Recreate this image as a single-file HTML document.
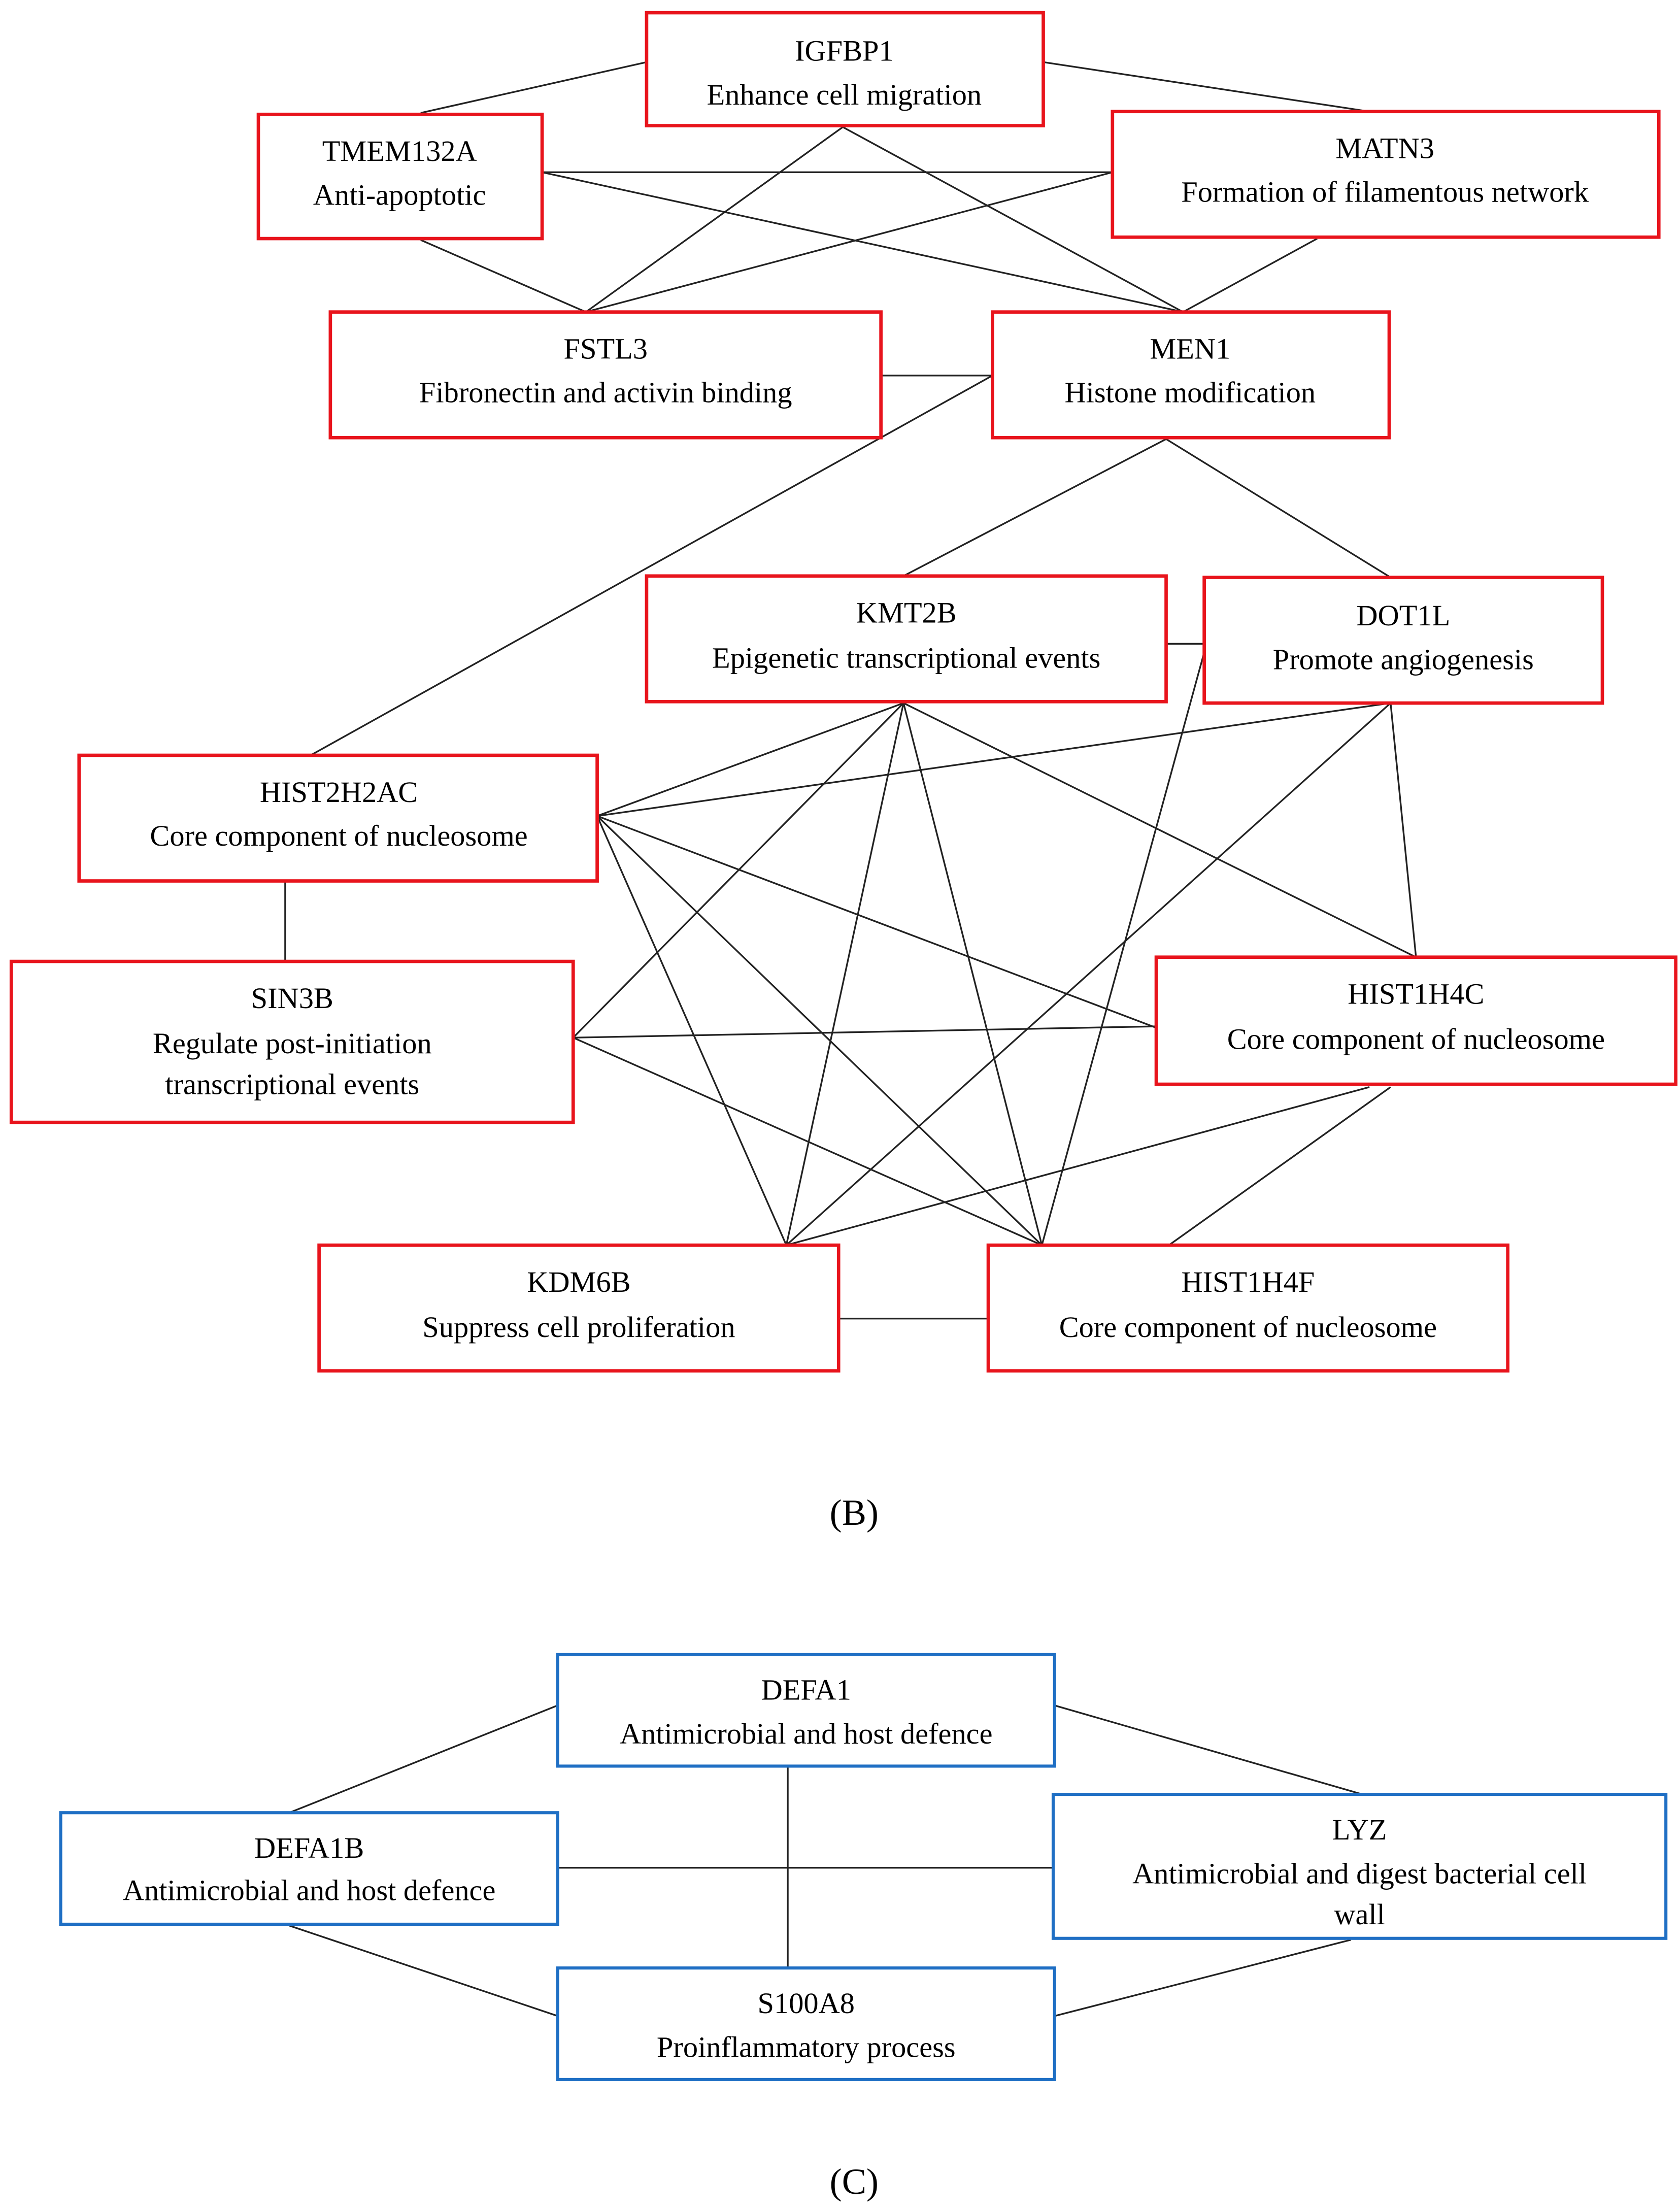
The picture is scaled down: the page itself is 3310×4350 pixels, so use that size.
<!DOCTYPE html>
<html><head><meta charset="utf-8"><style>
html,body{margin:0;padding:0;background:#fff;}
svg{display:block;}
svg text{font-family:"Liberation Serif","DejaVu Serif",serif;font-size:21px;fill:#000;text-anchor:middle;}
.r{fill:#fff;stroke:#e8141c;stroke-width:2.4;}
.b{fill:#fff;stroke:#1f6fc4;stroke-width:2.2;}
line{stroke:#222;stroke-width:1.2;}
</style></head><body>
<svg width="3310" height="4350" viewBox="0 0 1190 1564" preserveAspectRatio="none" xmlns="http://www.w3.org/2000/svg" font-family="Liberation Serif, DejaVu Serif, serif">
<g>
<line x1="458" y1="44" x2="298" y2="80"/>
<line x1="739" y1="44" x2="970" y2="79"/>
<line x1="597" y1="90" x2="415" y2="221"/>
<line x1="597" y1="90" x2="838" y2="221"/>
<line x1="384" y1="122" x2="788" y2="122"/>
<line x1="384" y1="122" x2="838" y2="221"/>
<line x1="788" y1="122" x2="415" y2="221"/>
<line x1="298" y1="170" x2="415" y2="221"/>
<line x1="933" y1="169" x2="838" y2="221"/>
<line x1="624" y1="266" x2="703" y2="266"/>
<line x1="703" y1="266" x2="220" y2="535"/>
<line x1="826" y1="311" x2="640" y2="408"/>
<line x1="826" y1="311" x2="985" y2="409"/>
<line x1="826" y1="456" x2="853" y2="456"/>
<line x1="423" y1="578" x2="985" y2="498"/>
<line x1="423" y1="578" x2="640" y2="498"/>
<line x1="423" y1="578" x2="819" y2="728"/>
<line x1="423" y1="578" x2="557" y2="882"/>
<line x1="423" y1="578" x2="738" y2="882"/>
<line x1="640" y1="498" x2="406" y2="735"/>
<line x1="640" y1="498" x2="557" y2="882"/>
<line x1="640" y1="498" x2="738" y2="882"/>
<line x1="640" y1="498" x2="1003" y2="678"/>
<line x1="985" y1="498" x2="1003" y2="678"/>
<line x1="985" y1="498" x2="557" y2="882"/>
<line x1="853" y1="462" x2="738" y2="882"/>
<line x1="406" y1="735" x2="819" y2="727"/>
<line x1="406" y1="735" x2="738" y2="882"/>
<line x1="970" y1="770" x2="557" y2="882"/>
<line x1="985" y1="770" x2="828" y2="882"/>
<line x1="594" y1="934" x2="700" y2="934"/>
<line x1="202" y1="625" x2="202" y2="681"/>
<line x1="395" y1="1208" x2="205" y2="1284"/>
<line x1="747" y1="1208" x2="965" y2="1271"/>
<line x1="558" y1="1252" x2="558" y2="1394"/>
<line x1="395" y1="1323" x2="746" y2="1323"/>
<line x1="205" y1="1364" x2="395" y2="1428"/>
<line x1="747" y1="1428" x2="957" y2="1374"/>
</g>
<rect class="r" x="458" y="9" width="281" height="80"/>
<text x="598" y="43">IGFBP1</text><text x="598" y="74">Enhance cell migration</text>
<rect class="r" x="183" y="81" width="201" height="88"/>
<text x="283" y="114">TMEM132A</text><text x="283" y="145">Anti-apoptotic</text>
<rect class="r" x="788" y="79" width="387" height="89"/>
<text x="981" y="112">MATN3</text><text x="981" y="143">Formation of filamentous network</text>
<rect class="r" x="234" y="221" width="390" height="89"/>
<text x="429" y="254">FSTL3</text><text x="429" y="285">Fibronectin and activin binding</text>
<rect class="r" x="703" y="221" width="281" height="89"/>
<text x="843" y="254">MEN1</text><text x="843" y="285">Histone modification</text>
<rect class="r" x="458" y="408" width="368" height="89"/>
<text x="642" y="441">KMT2B</text><text x="642" y="473">Epigenetic transcriptional events</text>
<rect class="r" x="853" y="409" width="282" height="89"/>
<text x="994" y="443">DOT1L</text><text x="994" y="474">Promote angiogenesis</text>
<rect class="r" x="56" y="535" width="367" height="89"/>
<text x="240" y="568">HIST2H2AC</text><text x="240" y="599">Core component of nucleosome</text>
<rect class="r" x="8" y="681" width="398" height="114"/>
<text x="207" y="714">SIN3B</text><text x="207" y="746">Regulate post-initiation</text><text x="207" y="775">transcriptional events</text>
<rect class="r" x="819" y="678" width="368" height="90"/>
<text x="1003" y="711">HIST1H4C</text><text x="1003" y="743">Core component of nucleosome</text>
<rect class="r" x="226" y="882" width="368" height="89"/>
<text x="410" y="915">KDM6B</text><text x="410" y="947">Suppress cell proliferation</text>
<rect class="r" x="700" y="882" width="368" height="89"/>
<text x="884" y="915">HIST1H4F</text><text x="884" y="947">Core component of nucleosome</text>
<text x="605" y="1080" style="font-size:26px">(B)</text>
<rect class="b" x="395" y="1172" width="352" height="79"/>
<text x="571" y="1204">DEFA1</text><text x="571" y="1235">Antimicrobial and host defence</text>
<rect class="b" x="43" y="1284" width="352" height="79"/>
<text x="219" y="1316">DEFA1B</text><text x="219" y="1346">Antimicrobial and host defence</text>
<rect class="b" x="746" y="1271" width="434" height="102"/>
<text x="963" y="1303">LYZ</text><text x="963" y="1334">Antimicrobial and digest bacterial cell</text><text x="963" y="1363">wall</text>
<rect class="b" x="395" y="1394" width="352" height="79"/>
<text x="571" y="1426">S100A8</text><text x="571" y="1457">Proinflammatory process</text>
<text x="605" y="1554" style="font-size:26px">(C)</text>
</svg>
</body></html>
